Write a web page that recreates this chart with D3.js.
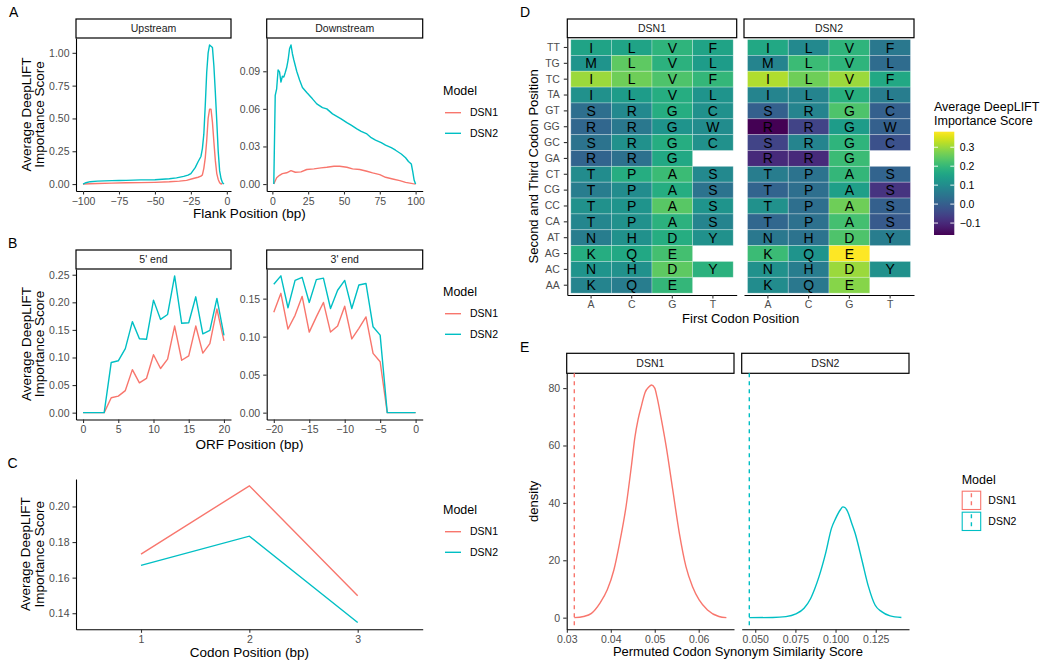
<!DOCTYPE html>
<html><head><meta charset="utf-8">
<script src="https://cdn.jsdelivr.net/npm/d3@7"></script>
<style>body{margin:0;background:#fff}</style>
</head><body><svg id="c" width="1050" height="667"></svg>
<script>
// ---------------- DATA ----------------
const models = ["DSN1", "DSN2"];
const modelColors = ["#F8766D", "#00BFC4"];

// Panel A (flank position, score)
const upstreamDSN1 = [[-100,0.000],[-95,0.002],[-90,0.004],[-80,0.007],[-70,0.010],[-60,0.011],[-50,0.013],[-40,0.017],[-33,0.022],[-28,0.028],[-24,0.040],[-20,0.052],[-18,0.060],[-17,0.070],[-16,0.12],[-15,0.20],[-14,0.33],[-13,0.50],[-12,0.57],[-11,0.57],[-10,0.47],[-9,0.32],[-8,0.18],[-7,0.08],[-6,0.035],[-5,0.01],[-4,0.0],[-3,0.005]];
const upstreamDSN2 = [[-100,0.000],[-98,0.010],[-95,0.018],[-90,0.022],[-85,0.024],[-80,0.026],[-75,0.027],[-70,0.028],[-65,0.030],[-60,0.032],[-55,0.032],[-50,0.033],[-45,0.036],[-40,0.040],[-35,0.047],[-30,0.058],[-27,0.068],[-25,0.080],[-22,0.125],[-20,0.17],[-18,0.21],[-17,0.27],[-16,0.38],[-15,0.60],[-14,0.85],[-13,1.00],[-12,1.06],[-11,1.05],[-10,1.04],[-9,0.90],[-8,0.70],[-7,0.48],[-6,0.25],[-5,0.10],[-4,0.04],[-3,0.01],[-2,0.00]];
const downstreamDSN1 = [[1,0],[3,0.005],[5,0.007],[7,0.0083],[10,0.009],[13,0.0107],[16,0.0094],[20,0.0097],[24,0.0116],[29,0.0121],[34,0.0129],[38,0.0134],[43,0.0142],[47,0.0142],[52,0.0134],[56,0.0121],[61,0.0116],[66,0.0102],[70,0.0089],[75,0.0075],[79,0.0054],[84,0.004],[89,0.0027],[93,0.0013],[98,0.0003],[100,0]];
const downstreamDSN2 = [[1,0],[2,0.0707],[3,0.076],[4,0.091],[5,0.0895],[6,0.0814],[7,0.086],[8,0.0854],[9,0.089],[10,0.093],[11,0.099],[12,0.108],[13,0.111],[14,0.104],[15,0.099],[17,0.090],[19,0.083],[21,0.077],[24,0.073],[28,0.068],[31,0.064],[35,0.061],[38,0.060],[42,0.056],[45,0.054],[48,0.052],[52,0.049],[55,0.047],[59,0.044],[62,0.042],[66,0.040],[69,0.037],[72,0.035],[76,0.033],[79,0.031],[83,0.029],[86,0.027],[90,0.024],[93,0.021],[95,0.018],[97,0.016],[98,0.010],[99,0.003],[100,0]];
const upTicksX = [-100,-75,-50,-25,0], upTicksY = [0,0.25,0.5,0.75,1.0];
const downTicksX = [0,25,50,75,100], downTicksY = [0,0.03,0.06,0.09];

// Panel B (ORF position)
const orf5Pos = [0,1,2,3,4,5,6,7,8,9,10,11,12,13,14,15,16,17,18,19,20];
const orf5DSN1 = [0,0,0,0,0.027,0.030,0.040,0.078,0.054,0.062,0.105,0.080,0.097,0.157,0.095,0.103,0.157,0.108,0.125,0.188,0.130];
const orf5DSN2 = [0,0,0,0,0.091,0.094,0.116,0.165,0.134,0.133,0.204,0.169,0.178,0.248,0.162,0.163,0.210,0.143,0.149,0.207,0.140];
const orf3Pos = [-20,-19,-18,-17,-16,-15,-14,-13,-12,-11,-10,-9,-8,-7,-6,-5,-4,-3,-2,-1,0];
const orf3DSN1 = [0.132,0.157,0.110,0.128,0.153,0.106,0.126,0.145,0.106,0.114,0.140,0.097,0.111,0.126,0.078,0.067,0,0,0,0,0];
const orf3DSN2 = [0.169,0.180,0.138,0.174,0.178,0.145,0.175,0.177,0.137,0.161,0.174,0.137,0.168,0.170,0.113,0.102,0,0,0,0,0];
const orf5TicksX = [0,5,10,15,20], orf5TicksY = [0,0.05,0.10,0.15,0.20,0.25];
const orf3TicksX = [-20,-15,-10,-5,0], orf3TicksY = [0,0.05,0.10,0.15];

// Panel C
const codonPos = ["1","2","3"];
const codonDSN1 = [0.1732,0.2116,0.1498];
const codonDSN2 = [0.1669,0.1833,0.1348];
const codonTicksY = [0.14,0.16,0.18,0.20];

// Panel D heatmap
const firstPos = ["A","C","G","T"];
const secondThird = ["TT","TG","TC","TA","GT","GG","GC","GA","CT","CG","CC","CA","AT","AG","AC","AA"];
const aminoAcids = [
 ["I","L","V","F"],["M","L","V","L"],["I","L","V","F"],["I","L","V","L"],
 ["S","R","G","C"],["R","R","G","W"],["S","R","G","C"],["R","R","G",null],
 ["T","P","A","S"],["T","P","A","S"],["T","P","A","S"],["T","P","A","S"],
 ["N","H","D","Y"],["K","Q","E",null],["N","H","D","Y"],["K","Q","E",null]];
const heatDSN1 = [
 [0.153,0.153,0.191,0.153],[0.120,0.246,0.186,0.137],[0.300,0.262,0.229,0.197],[0.110,0.137,0.175,0.120],
 [0.033,0.093,0.175,0.110],[0.017,0.055,0.120,0.099],[0.044,0.110,0.175,0.110],[0.011,0.039,0.164,null],
 [0.099,0.175,0.208,0.093],[0.066,0.099,0.175,0.044],[0.110,0.120,0.240,0.120],[0.088,0.110,0.186,0.082],
 [0.066,0.110,0.175,0.110],[0.175,0.164,0.219,null],[0.120,0.110,0.246,0.186],[0.082,0.066,0.197,null]];
const heatDSN2 = [
 [0.164,0.093,0.191,0.055],[0.082,0.208,0.191,0.028],[0.317,0.262,0.300,0.164],[0.082,0.082,0.180,0.066],
 [0.001,0.082,0.229,0.001],[-0.163,-0.054,0.137,0.001],[-0.054,0.082,0.191,-0.027],[-0.098,-0.098,0.208,null],
 [0.066,0.044,0.197,0.011],[0.011,0.033,0.142,-0.081],[0.110,0.033,0.262,0.001],[0.017,0.039,0.219,-0.010],
 [0.055,0.044,0.229,0.066],[0.208,0.120,0.382,null],[0.110,0.066,0.300,0.110],[0.099,0.055,0.284,null]];
const heatLegendTicks = [-0.1,0.0,0.1,0.2,0.3];

// Panel E densities
const densDSN1 = [[0.0317,0],[0.0338,0.4],[0.0356,1.5],[0.0375,5],[0.0392,9.7],[0.0407,16.6],[0.0420,26],[0.0435,39],[0.0447,53],[0.0455,63],[0.0462,69],[0.0470,74],[0.0478,78.5],[0.0486,80.3],[0.0493,81.1],[0.0500,80],[0.0505,77],[0.0514,70],[0.0526,59.7],[0.0541,44.5],[0.0556,29.4],[0.0571,17.8],[0.0586,10.8],[0.0601,6.2],[0.0620,2.7],[0.0646,0.4],[0.0663,0]];
const densDSN2 = [[0.0463,0],[0.0609,0.05],[0.0691,0.35],[0.0753,1.3],[0.0804,3.3],[0.0845,6.7],[0.0870,10],[0.0897,14.3],[0.0938,22.4],[0.0975,31.2],[0.1000,34.5],[0.1030,37.6],[0.1045,38.6],[0.1060,38.3],[0.1075,37],[0.1100,33],[0.1122,29.4],[0.1164,20.1],[0.1205,10.8],[0.1246,4.4],[0.1287,2.1],[0.1340,0.6],[0.1410,0.05]];
const observedDSN1 = 0.0317, observedDSN2 = 0.0463;
const densTicksY = [0,20,40,60,80];
const densTicksX1 = [0.03,0.04,0.05,0.06], densTicksX2 = [0.05,0.075,0.1,0.125];

// ---------------- DRAWING ----------------
const svg = d3.select("#c");
svg.append("rect").attr("width",1050).attr("height",667).attr("fill","#fff");
const FONT = "'Liberation Sans', Arial, Helvetica, sans-serif";
const color = d3.scaleOrdinal().domain(models).range(modelColors);
const LW = 1.4;

function ggExpand(ext, m=0.05){ const r = ext[1]-ext[0]; return [ext[0]-r*m, ext[1]+r*m]; }
function txt(x, y, s, size, opt={}){
  const t = svg.append("text").attr("x",x).attr("y",y).text(s)
    .style("font-family",FONT).style("font-size",size+"px")
    .attr("fill", opt.fill || "#000").attr("text-anchor", opt.anchor || "start");
  if(opt.dy) t.attr("dy",opt.dy);
  if(opt.rotate) t.attr("transform",`rotate(-90,${x},${y})`);
  return t;
}
function styleAxis(g, fs=10.5){
  g.select(".domain").attr("stroke","#000").attr("stroke-width",1.1);
  g.selectAll(".tick line").attr("stroke","#333").attr("stroke-width",1.1);
  g.selectAll(".tick text").attr("fill","#4D4D4D").style("font-family",FONT).style("font-size",fs+"px");
}
function strip(x0,x1,y0,y1,label){
  svg.append("rect").attr("x",x0).attr("y",y0).attr("width",x1-x0).attr("height",y1-y0)
    .attr("fill","#fff").attr("stroke","#000").attr("stroke-width",1.2);
  txt((x0+x1)/2,(y0+y1)/2,label,10.5,{anchor:"middle",dy:"0.36em",fill:"#1A1A1A"});
}
function tag(x,y,s){ txt(x,y,s,14); }

function linePanel(o){
  const allX = o.series.flatMap(s=>s.pts.map(p=>p[0]));
  const allY = o.series.flatMap(s=>s.pts.map(p=>p[1]));
  const x = d3.scaleLinear().domain(ggExpand(d3.extent(allX))).range([o.x0,o.x1]);
  const y = d3.scaleLinear().domain(ggExpand(d3.extent(allY))).range([o.y1,o.y0]);
  if(o.strip) strip(o.x0,o.x1,o.stripY,o.y0,o.strip);
  o.series.forEach(s=>{
    svg.append("path").datum(s.pts).attr("fill","none").attr("stroke",color(s.model))
      .attr("stroke-width",LW).attr("stroke-linejoin","round")
      .attr("d", d3.line().x(d=>x(d[0])).y(d=>y(d[1])));
  });
  const gx = svg.append("g").attr("transform",`translate(0,${o.y1})`)
    .call(d3.axisBottom(x).tickValues(o.xTicks).tickFormat(d3.format(o.xFmt||"d")).tickSize(3.5).tickSizeOuter(0).tickPadding(3));
  styleAxis(gx);
  const gy = svg.append("g").attr("transform",`translate(${o.x0},0)`)
    .call(d3.axisLeft(y).tickValues(o.yTicks).tickFormat(d3.format(o.yFmt||".2f")).tickSize(3.5).tickSizeOuter(0).tickPadding(3));
  styleAxis(gy);
}
function yTitle2(cy){
  txt(30.5,cy,"Average DeepLIFT",13.5,{anchor:"middle",rotate:true});
  txt(44,cy,"Importance Score",13.5,{anchor:"middle",rotate:true});
}
function lineLegend(yt){
  txt(443,yt,"Model",12.5);
  models.forEach((m,i)=>{
    const yy = yt + 17.7 + i*20.6;
    svg.append("line").attr("x1",445).attr("x2",461).attr("y1",yy).attr("y2",yy)
      .attr("stroke",color(m)).attr("stroke-width",LW);
    txt(470,yy,m,10.5,{dy:"0.36em"});
  });
}
function toPts(xs, ys){ return xs.map((v,i)=>[v, ys[i]]); }

// ---- Panel A ----
tag(9,17,"A");
linePanel({x0:76,x1:231,y0:38,y1:191,stripY:19,strip:"Upstream",xTicks:upTicksX,yTicks:upTicksY,
  series:[{model:"DSN1",pts:upstreamDSN1},{model:"DSN2",pts:upstreamDSN2}]});
linePanel({x0:266.7,x1:422.7,y0:38,y1:191,stripY:19,strip:"Downstream",xTicks:downTicksX,yTicks:downTicksY,
  series:[{model:"DSN1",pts:downstreamDSN1},{model:"DSN2",pts:downstreamDSN2}]});
yTitle2(114.5);
txt(249.4,218,"Flank Position (bp)",13.5,{anchor:"middle"});
lineLegend(95);

// ---- Panel B ----
tag(8,247.5,"B");
linePanel({x0:76,x1:231,y0:269,y1:419.5,stripY:250,strip:"5' end",xTicks:orf5TicksX,yTicks:orf5TicksY,
  series:[{model:"DSN1",pts:toPts(orf5Pos,orf5DSN1)},{model:"DSN2",pts:toPts(orf5Pos,orf5DSN2)}]});
linePanel({x0:266.7,x1:422.7,y0:269,y1:419.5,stripY:250,strip:"3' end",xTicks:orf3TicksX,yTicks:orf3TicksY,
  series:[{model:"DSN1",pts:toPts(orf3Pos,orf3DSN1)},{model:"DSN2",pts:toPts(orf3Pos,orf3DSN2)}]});
yTitle2(344);
txt(249.4,449,"ORF Position (bp)",13.5,{anchor:"middle"});
lineLegend(296);

// ---- Panel C ----
tag(7.5,467.5,"C");
(function(){
  const x0=76,x1=422.7,y0=479,y1=629.3;
  const x = d3.scalePoint().domain(codonPos).range([x0,x1]).padding(0.6);
  const y = d3.scaleLinear().domain(ggExpand(d3.extent(codonDSN1.concat(codonDSN2)))).range([y1,y0]);
  [["DSN1",codonDSN1],["DSN2",codonDSN2]].forEach(([m,vals])=>{
    svg.append("path").datum(vals).attr("fill","none").attr("stroke",color(m)).attr("stroke-width",LW)
      .attr("d", d3.line().x((d,i)=>x(codonPos[i])).y(d=>y(d)));
  });
  styleAxis(svg.append("g").attr("transform",`translate(0,${y1})`)
    .call(d3.axisBottom(x).tickSize(3.5).tickSizeOuter(0).tickPadding(3)));
  styleAxis(svg.append("g").attr("transform",`translate(${x0},0)`)
    .call(d3.axisLeft(y).tickValues(codonTicksY).tickFormat(d3.format(".2f")).tickSize(3.5).tickSizeOuter(0).tickPadding(3)));
  yTitle2((y0+y1)/2);
  txt((x0+x1)/2,656.5,"Codon Position (bp)",13.5,{anchor:"middle"});
})();
lineLegend(514);

// ---- Panel D ----
tag(520,17,"D");
const allHeat = heatDSN1.flat().concat(heatDSN2.flat()).filter(v=>v!==null);
const heatColor = d3.scaleSequential(d3.interpolateViridis).domain(d3.extent(allHeat));
function heatPanel(x0,x1,label,vals,showY){
  const yTop=37.7, yBot=295;
  const xb = d3.scaleBand().domain(firstPos).range([x0,x1]).paddingInner(0).paddingOuter(0.086);
  const yb = d3.scaleBand().domain(secondThird).range([yTop,yBot]).paddingInner(0).paddingOuter(0.117);
  strip(x0,x1,19,yTop,label);
  const cells = [];
  secondThird.forEach((r,i)=>firstPos.forEach((c,j)=>{ if(vals[i][j]!==null) cells.push({r,c,v:vals[i][j],aa:aminoAcids[i][j]}); }));
  svg.append("g").selectAll("rect").data(cells).join("rect")
    .attr("x",d=>xb(d.c)).attr("y",d=>yb(d.r)).attr("width",xb.bandwidth()).attr("height",yb.bandwidth())
    .attr("fill",d=>heatColor(d.v)).attr("stroke","#fff").attr("stroke-opacity",0.35).attr("stroke-width",0.8);
  svg.append("g").selectAll("text").data(cells).join("text")
    .attr("x",d=>xb(d.c)+xb.bandwidth()/2).attr("y",d=>yb(d.r)+yb.bandwidth()/2).attr("dy","0.36em")
    .attr("text-anchor","middle").style("font-family",FONT).style("font-size","14px").attr("fill","#000")
    .text(d=>d.aa);
  styleAxis(svg.append("g").attr("transform",`translate(0,${yBot})`)
    .call(d3.axisBottom(xb).tickSize(3.5).tickSizeOuter(0).tickPadding(2.5)), 10.5);
  if(showY) styleAxis(svg.append("g").attr("transform",`translate(${x0},0)`)
    .call(d3.axisLeft(yb).tickSize(3.5).tickSizeOuter(0).tickPadding(4)), 10.5);
}
heatPanel(567.3,736.7,"DSN1",heatDSN1,true);
heatPanel(744,914,"DSN2",heatDSN2,false);
txt(538.5,166.4,"Second and Third Codon Position",13,{anchor:"middle",rotate:true});
txt(740.6,323,"First Codon Position",13,{anchor:"middle"});
// colourbar legend
(function(){
  const bx0=934, bx1=954.3, by0=131.7, by1=235;
  txt(bx0,111,"Average DeepLIFT",12.5);
  txt(bx0,125,"Importance Score",12.5);
  const grad = svg.append("defs").append("linearGradient").attr("id","vir").attr("x1",0).attr("y1",1).attr("x2",0).attr("y2",0);
  d3.range(0,1.0001,0.05).forEach(t=>grad.append("stop").attr("offset",t).attr("stop-color",d3.interpolateViridis(t)));
  svg.append("rect").attr("x",bx0).attr("y",by0).attr("width",bx1-bx0).attr("height",by1-by0).attr("fill","url(#vir)");
  const ys = d3.scaleLinear().domain(heatColor.domain()).range([by1,by0]);
  heatLegendTicks.forEach(v=>{
    const yy = ys(v);
    [[bx0,bx0+4],[bx1-4,bx1]].forEach(([a,b])=>svg.append("line").attr("x1",a).attr("x2",b).attr("y1",yy).attr("y2",yy).attr("stroke","#fff").attr("stroke-width",0.9));
    txt(bx1+5.5,yy,d3.format(".1f")(v),10.5,{dy:"0.36em",fill:"#000"});
  });
})();

// ---- Panel E ----
tag(520,352,"E");
const densY = d3.scaleLinear().domain(ggExpand([0, d3.max(densDSN1.concat(densDSN2),d=>d[1])])).range([629.3,373.3]);
function densPanel(x0,x1,label,pts,obs,m,xTicks,xFmt,showY){
  const x = d3.scaleLinear().domain(ggExpand(d3.extent(pts.map(p=>p[0]).concat([obs])))).range([x0,x1]);
  strip(x0,x1,353.3,373.3,label);
  svg.append("path").datum(pts).attr("fill","none").attr("stroke",color(m)).attr("stroke-width",LW)
    .attr("d", d3.line().x(d=>x(d[0])).y(d=>densY(d[1])).curve(d3.curveMonotoneX));
  svg.append("line").attr("x1",x(obs)).attr("x2",x(obs)).attr("y1",373.3).attr("y2",629.3)
    .attr("stroke",color(m)).attr("stroke-width",LW).attr("stroke-dasharray","4,4");
  styleAxis(svg.append("g").attr("transform",`translate(0,629.3)`)
    .call(d3.axisBottom(x).tickValues(xTicks).tickFormat(d3.format(xFmt)).tickSize(3.5).tickSizeOuter(0).tickPadding(3)));
  if(showY) styleAxis(svg.append("g").attr("transform",`translate(${x0},0)`)
    .call(d3.axisLeft(densY).tickValues(densTicksY).tickFormat(d3.format("d")).tickSize(3.5).tickSizeOuter(0).tickPadding(3)));
}
densPanel(566.7,734,"DSN1",densDSN1,observedDSN1,"DSN1",densTicksX1,".2f",true);
densPanel(741.7,909,"DSN2",densDSN2,observedDSN2,"DSN2",densTicksX2,".3f",false);
txt(538,501.3,"density",13,{anchor:"middle",rotate:true});
txt(737.9,656.4,"Permuted Codon Synonym Similarity Score",13,{anchor:"middle"});
// legend E
(function(){
  txt(961.7,484,"Model",12.5);
  models.forEach((m,i)=>{
    const y0 = 490.7 + i*21;
    svg.append("rect").attr("x",962.2).attr("y",y0+0.5).attr("width",18.5).attr("height",18.3)
      .attr("fill","none").attr("stroke",color(m)).attr("stroke-width",1.1);
    svg.append("line").attr("x1",971.4).attr("x2",971.4).attr("y1",y0+0.5).attr("y2",y0+18.8)
      .attr("stroke",color(m)).attr("stroke-width",LW).attr("stroke-dasharray","4,4").attr("stroke-dashoffset",-2);
    txt(988.3,y0+9.6,m,10.5,{dy:"0.36em"});
  });
})();
</script></body></html>
